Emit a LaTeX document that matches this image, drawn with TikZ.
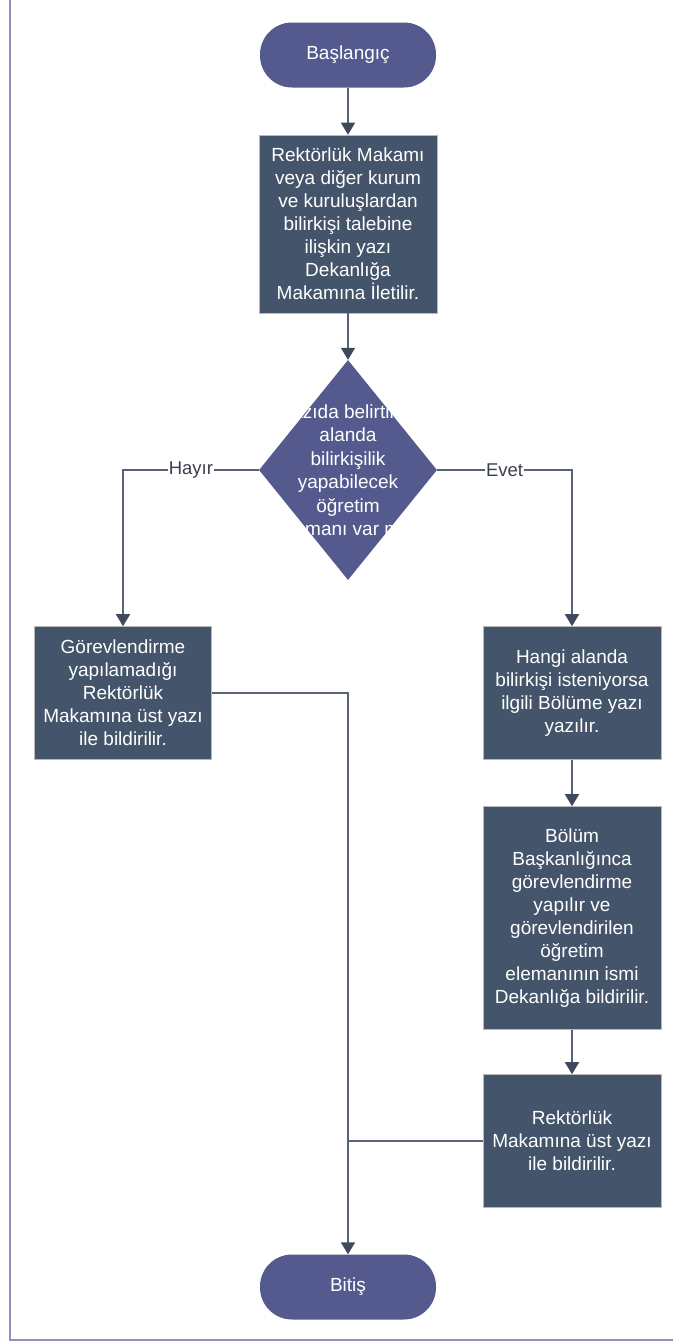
\documentclass[tikz,border=0pt]{standalone}
\usepackage{fontspec}
\setmainfont{Liberation Sans}
\usetikzlibrary{positioning,arrows.meta,shapes.geometric}
\definecolor{termfill}{RGB}{84,90,141}
\definecolor{boxfill}{RGB}{68,84,106}
\definecolor{linecol}{RGB}{88,98,118}
\definecolor{tipcol}{RGB}{62,74,92}
\definecolor{framecol}{RGB}{140,146,190}
\definecolor{lblcol}{RGB}{58,64,76}
\tikzset{
  term/.style={rectangle, rounded corners=32pt, fill=termfill, text=white,
    minimum width=176pt, minimum height=65pt, font=\fontsize{19}{23}\selectfont},
  procbox/.style={rectangle, fill=boxfill, draw=gray!55, line width=0.6pt,
    text=white, align=center, minimum width=178pt, inner sep=0pt,
    font=\fontsize{19}{23}\selectfont},
  flow/.style={draw=linecol, line width=1.5pt,
    -{Triangle[width=14pt,length=12pt,color=tipcol]}},
  link/.style={draw=linecol, line width=1.5pt},
  lbl/.style={fill=white, text=lblcol, inner sep=1pt,
    font=\fontsize{18.5}{22}\selectfont}
}
\begin{document}
\begin{tikzpicture}[x=1pt,y=-1pt]
\useasboundingbox (0,0) rectangle (673,1344);
\draw [framecol, line width=2pt] (10,0) -- (10,1340) -- (673,1340);
% main column
\node [term] (start) at (348,55) {Başlangıç};
\node [procbox, minimum height=178pt] (talep) at (348,224)
  {Rektörlük Makamı\\veya diğer kurum\\ve kuruluşlardan\\bilirkişi talebine\\ilişkin yazı\\Dekanlığa\\Makamına İletilir.};
\node [diamond, fill=termfill, minimum width=178pt, minimum height=220pt, inner sep=0pt] (karar) at (348,470) {};
\begin{scope}
\clip (karar.north) -- (karar.east) -- (karar.south) -- (karar.west) -- cycle;
\node [text=white, align=center, font=\fontsize{19}{23.5}\selectfont] (soru) at (karar.center)
  {Yazıda belirtilen\\alanda\\bilirkişilik\\yapabilecek\\öğretim\\elemanı var mı?};
\end{scope}
% branches
\node [procbox, minimum width=177pt, minimum height=133pt] (red) at (123,693)
  {Görevlendirme\\yapılamadığı\\Rektörlük\\Makamına üst yazı\\ile bildirilir.};
\node [procbox, minimum height=133pt] (bolum) at (572,693)
  {Hangi alanda\\bilirkişi isteniyorsa\\ilgili Bölüme yazı\\yazılır.};
\node [procbox, minimum height=223pt] (gorev) at (572,918)
  {Bölüm\\Başkanlığınca\\görevlendirme\\yapılır ve\\görevlendirilen\\öğretim\\elemanının ismi\\Dekanlığa bildirilir.};
\node [procbox, minimum height=133pt] (rektor) at (572,1141)
  {Rektörlük\\Makamına üst yazı\\ile bildirilir.};
\node [term] (bitis) at (348,1287) {Bitiş};
% connectors
\draw [flow] (start) -- (talep);
\draw [flow] (talep) -- (karar);
\draw [flow] (karar.west) -| node [lbl, pos=0.25] {Hayır} (red.north);
\draw [flow] (karar.east) -| node [lbl, pos=0.25] {Evet} (bolum.north);
\draw [flow] (bolum) -- (gorev);
\draw [flow] (gorev) -- (rektor);
\draw [flow] (red.east) -| (bitis.north);
\draw [link] (rektor.west) -- (rektor.west -| bitis.north);
\end{tikzpicture}
\end{document}
